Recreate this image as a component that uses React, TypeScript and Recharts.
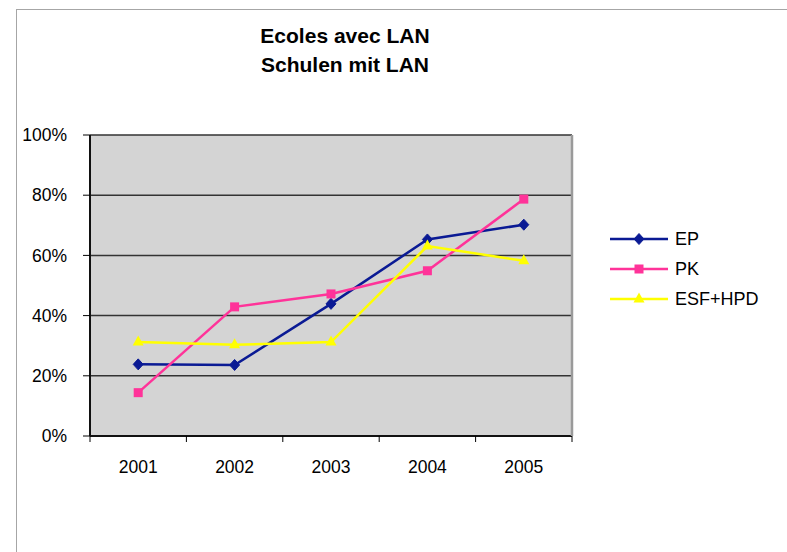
import { LineChart, Line, XAxis, YAxis, CartesianGrid } from 'recharts'

const years = ['2001', '2002', '2003', '2004', '2005']
const epValues = [0.238, 0.236, 0.439, 0.653, 0.702]
const pkValues = [0.144, 0.429, 0.472, 0.549, 0.787]
const esfValues = [0.312, 0.303, 0.312, 0.631, 0.582]
const yTicks = [0, 0.2, 0.4, 0.6, 0.8, 1]
const titleLines = ['Ecoles avec LAN', 'Schulen mit LAN']

const series = [
  { key: 'EP', name: 'EP', values: epValues, color: '#0a1a94', shape: 'diamond' },
  { key: 'PK', name: 'PK', values: pkValues, color: '#ff3399', shape: 'square' },
  { key: 'ESF', name: 'ESF+HPD', values: esfValues, color: '#ffff00', shape: 'triangle' },
]

const data = years.map((year, i) => ({
  year,
  EP: epValues[i],
  PK: pkValues[i],
  ESF: esfValues[i],
}))

const FONT = "'Liberation Sans', Arial, sans-serif"

function Marker({ shape, cx, cy, color }: { shape: string; cx: number; cy: number; color: string }) {
  if (cx == null || cy == null) return null
  if (shape === 'diamond') {
    return (
      <polygon
        points={`${cx},${cy - 5.5} ${cx + 5},${cy} ${cx},${cy + 5.5} ${cx - 5},${cy}`}
        fill={color}
        stroke={color}
      />
    )
  }
  if (shape === 'square') {
    return <rect x={cx - 4.5} y={cy - 4.5} width={9} height={9} fill={color} />
  }
  return (
    <polygon
      points={`${cx},${cy - 6.5} ${cx + 5.5},${cy + 3.5} ${cx - 5.5},${cy + 3.5}`}
      fill={color}
    />
  )
}

// label in the band centre, tick marks on the band edges (Excel style)
function YearTick(props: any) {
  const { x, y, payload, index, visibleTicksCount, width } = props
  const half =
    payload && typeof payload.offset === 'number' && payload.offset > 0
      ? payload.offset
      : width / visibleTicksCount / 2
  const last = index === visibleTicksCount - 1
  return (
    <g>
      <line x1={x - half} y1={y} x2={x - half} y2={y + 6} stroke="#000" />
      {last && <line x1={x + half} y1={y} x2={x + half} y2={y + 6} stroke="#000" />}
      <text x={x} y={y + 31} dy="0.355em" textAnchor="middle" fontSize={17.5} fontFamily={FONT} fill="#000">
        {payload.value}
      </text>
    </g>
  )
}

export default function App() {
  return (
    <div
      style={{
        position: 'absolute',
        left: 0,
        top: 0,
        width: 787,
        height: 552,
        overflow: 'hidden',
        background: '#fff',
        fontFamily: FONT,
      }}
    >
      <div
        style={{
          position: 'absolute',
          left: 16,
          top: 9,
          width: 800,
          height: 600,
          borderLeft: '1px solid #a6a6a6',
          borderTop: '1px solid #a6a6a6',
        }}
      />
      <div
        style={{
          position: 'absolute',
          left: 0,
          top: 21,
          width: 690,
          textAlign: 'center',
          fontWeight: 'bold',
          fontSize: 21,
          lineHeight: '29px',
          color: '#000',
        }}
      >
        {titleLines.map((t) => (
          <div key={t}>{t}</div>
        ))}
      </div>
      <div style={{ position: 'absolute', left: 0, top: 0 }}>
        <LineChart width={787} height={552} data={data} margin={{ top: 135, right: 213, bottom: 86, left: 20 }}>
          <CartesianGrid
            yAxisId="left"
            vertical={false}
            fill="#d4d4d4"
            fillOpacity={1}
            stroke="#333"
            strokeWidth={1.5}
          />
          <XAxis
            dataKey="year"
            scale="band"
            interval={0}
            tickLine={false}
            tickSize={0}
            tickMargin={0}
            tick={<YearTick />}
            axisLine={{ stroke: '#111', strokeWidth: 2 }}
            height={30}
          />
          <YAxis
            yAxisId="left"
            domain={[0, 1]}
            ticks={yTicks}
            interval={0}
            width={70}
            tickSize={7}
            tickMargin={16}
            tickLine={{ stroke: '#000' }}
            axisLine={{ stroke: '#111', strokeWidth: 2 }}
            tick={{ fontSize: 17.5, fill: '#000', fontFamily: FONT }}
            tickFormatter={(v: number) => `${Math.round(v * 100)}%`}
          />
          <YAxis
            yAxisId="right"
            orientation="right"
            domain={[0, 1]}
            width={2}
            tick={false}
            tickLine={false}
            axisLine={{ stroke: '#9a9a9a', strokeWidth: 2.5 }}
          />
          {series.map((s) => (
            <Line
              key={s.key}
              yAxisId="left"
              dataKey={s.key}
              name={s.name}
              type="linear"
              stroke={s.color}
              strokeWidth={2.5}
              isAnimationActive={false}
              activeDot={false}
              dot={(p: any) => (
                <Marker key={`${s.key}-${p.index}`} shape={s.shape} cx={p.cx} cy={p.cy} color={s.color} />
              )}
            />
          ))}
        </LineChart>
      </div>
      {series.map((s, i) => (
        <div
          key={s.key}
          style={{
            position: 'absolute',
            left: 608,
            top: 224 + i * 30,
            height: 30,
            display: 'flex',
            alignItems: 'center',
          }}
        >
          <svg width={62} height={30}>
            <line x1={2} y1={15} x2={60} y2={15} stroke={s.color} strokeWidth={2.5} />
            <Marker shape={s.shape} cx={31} cy={15} color={s.color} />
          </svg>
          <span style={{ marginLeft: 5, fontSize: 18, color: '#000' }}>{s.name}</span>
        </div>
      ))}
    </div>
  )
}
